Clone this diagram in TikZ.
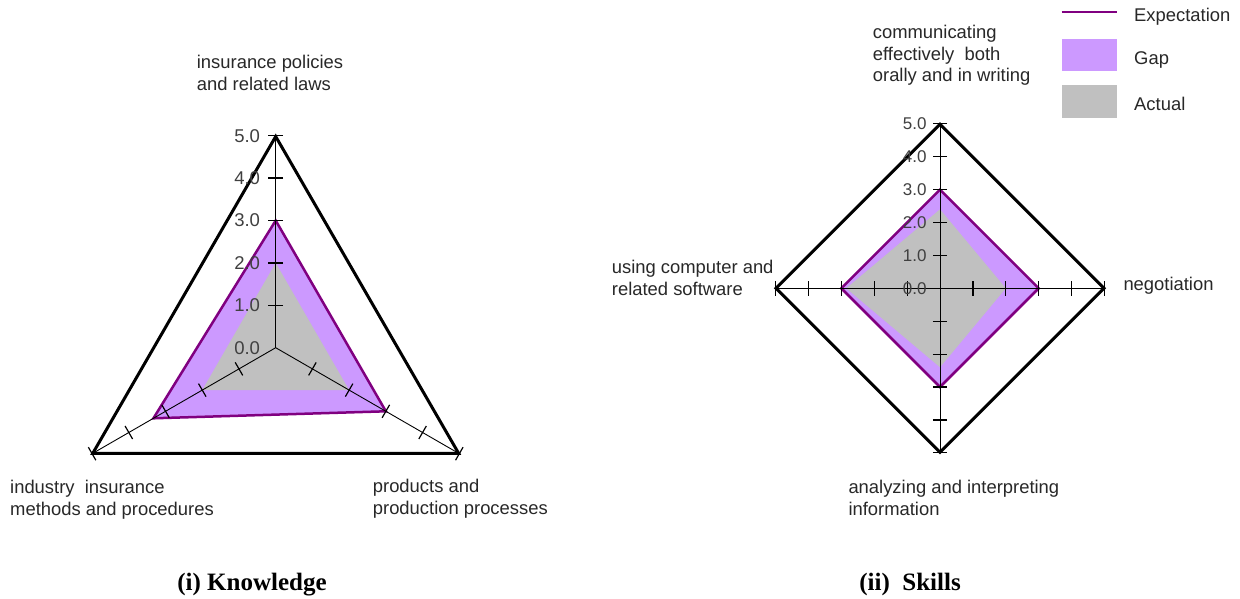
\documentclass[tikz,border=0pt]{standalone}
\usepackage{fontspec}
\setmainfont{Liberation Sans}
\newfontfamily\titlefont{Liberation Serif}
\usetikzlibrary{calc}

\definecolor{expline}{RGB}{128,0,128}
\definecolor{gapfill}{RGB}{204,153,255}
\definecolor{actfill}{RGB}{192,192,192}
\definecolor{labeltext}{RGB}{40,40,40}
\definecolor{scaletext}{RGB}{64,64,64}

\tikzset{
  frame/.style={line width=3pt, line join=miter, draw=black},
  axisline/.style={line width=0.9pt, draw=black},
  tickline/.style={line width=1.2pt, draw=black},
  expect/.style={draw=expline, line width=2.5pt, line join=miter},
  gap/.style={fill=gapfill},
  actual/.style={fill=actfill},
  catlabel/.style={font=\fontsize{18.4}{21.7}\selectfont, text=labeltext,
    align=left, anchor=north west, inner sep=0pt, yshift=15.19pt,
    execute at begin node=\strut},
  scalelabel/.style={font=\fontsize{18.5}{21}\selectfont, text=scaletext,
    anchor=east, inner sep=0pt},
  legendtext/.style={font=\fontsize{18.4}{21}\selectfont, text=labeltext,
    anchor=base west, inner sep=0pt},
  titlelabel/.style={font=\titlefont\bfseries\fontsize{25}{30}\selectfont,
    anchor=base, inner sep=0pt}
}

\begin{document}
\begin{tikzpicture}[x=1pt, y=-1pt]
  \useasboundingbox (0,0) rectangle (1240,599);
  \fill[white] (0,0) rectangle (1240,599);

  % ---------- (i) Knowledge: three-axis radar ----------
  \begin{scope}[shift={(275.7,347.7)}, scale=42.4]
    \coordinate (K0) at (0,0);
    \coordinate (Ka) at (270:5);
    \coordinate (Kb) at (150:5);
    \coordinate (Kc) at (30:5);
    \fill[gap] (270:3) -- (150:3.33) -- (30:3) -- cycle;
    \fill[actual] (270:2) -- (150:2) -- (30:2) -- cycle;
    \draw[expect] (270:3) -- (150:3.33) -- (30:3) -- cycle;
    \foreach \v in {Ka,Kb,Kc} \draw[axisline] (K0) -- (\v);
    \foreach \a in {270,150,30}
      \foreach \r in {1,...,5}
        \draw[tickline] ($(\a:\r)+(\a+90:0.177)$) -- ($(\a:\r)+(\a-90:0.177)$);
    \draw[frame] (Ka) -- (Kb) -- (Kc) -- cycle;
  \end{scope}
  \foreach \r in {0,...,5}
    \node[scalelabel] (Ks\r) at (260.2, {347.7-42.4*\r}) {\r.0};

  \node[catlabel] (Kla) at (196.7,70) {insurance policies\\and related laws};
  \node[catlabel] (Klb) at (10,495) {industry\ \ insurance\\methods and procedures};
  \node[catlabel] (Klc) at (372.7,494.5) {products and\\production processes};
  \node[titlelabel] (Kt) at (252,590) {(i) Knowledge};

  % ---------- (ii) Skills: four-axis radar ----------
  \begin{scope}[shift={(940,288.3)}, scale=32.9]
    \coordinate (S0) at (0,0);
    \coordinate (Sa) at (270:5);
    \coordinate (Sb) at (0:5);
    \coordinate (Sc) at (90:5);
    \coordinate (Sd) at (180:5);
    \fill[gap] (270:3) -- (0:3) -- (90:3) -- (180:3) -- cycle;
    \fill[actual] (270:2.4) -- (0:2) -- (90:2.4) -- (180:2.85) -- cycle;
    \draw[expect] (270:3) -- (0:3) -- (90:3) -- (180:3) -- cycle;
    \draw[axisline] (Sa) -- (Sc);
    \draw[axisline] (Sd) -- (Sb);
    \foreach \a in {270,0,90,180}
      \foreach \r in {1,...,5}
        \draw[tickline] ($(\a:\r)+(\a+90:0.22)$) -- ($(\a:\r)+(\a-90:0.22)$);
    \draw[frame] (Sa) -- (Sb) -- (Sc) -- (Sd) -- cycle;
  \end{scope}
  \foreach \r in {0,...,5}
    \node[scalelabel, font=\fontsize{17}{20}\selectfont] (Ss\r) at (926.7, {288.3-32.9*\r}) {\r.0};

  \node[catlabel] (Sla) at (872.7,40) {communicating\\effectively\ \ both\\orally and in writing};
  \node[catlabel] (Slb) at (1123.3,290.7) {negotiation};
  \node[catlabel] (Slc) at (848.3,495) {analyzing and interpreting\\information};
  \node[catlabel] (Sld) at (611.7,275) {using computer and\\related software};
  \node[titlelabel] (St) at (910,590) {(ii)\ \ Skills};

  % ---------- legend ----------
  \coordinate (L1a) at (1061.7,11.7);
  \coordinate (L1b) at (1117.3,11.7);
  \draw[draw=expline, line width=2.2pt] (L1a) -- (L1b);
  \node[legendtext] (L1) at (1134,21.7) {Expectation};
  \fill[gap] (1061.7,39) rectangle (1117.3,70.7);
  \node[legendtext] (L2) at (1134,64.3) {Gap};
  \fill[actual] (1061.7,85) rectangle (1117.3,118.3);
  \node[legendtext] (L3) at (1134,111) {Actual};
\end{tikzpicture}
\end{document}
